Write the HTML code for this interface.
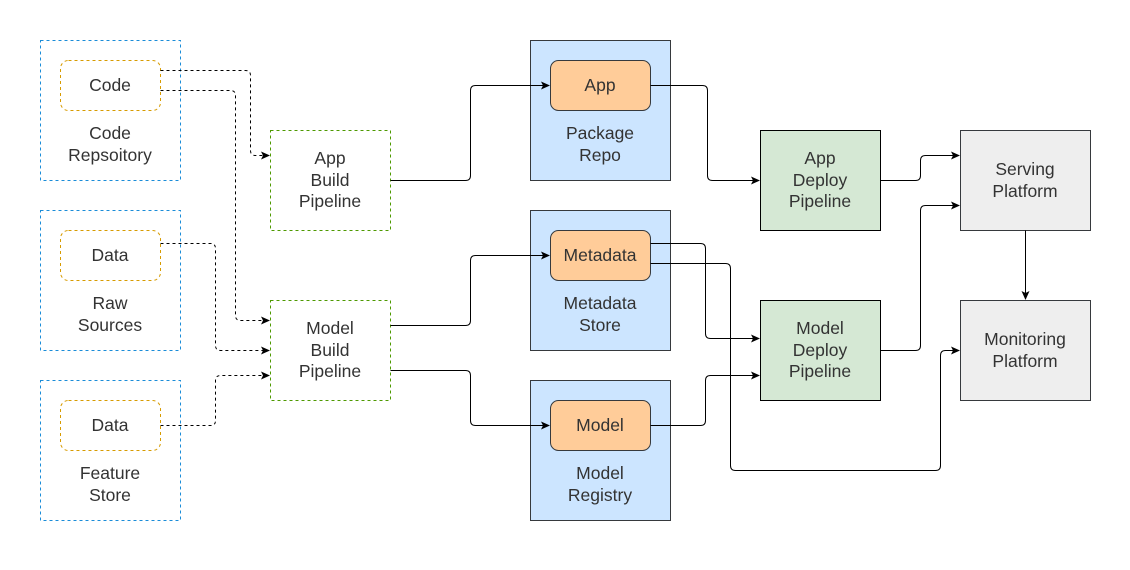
<!DOCTYPE html>
<html><head><style>body{margin:0;background:#fff}svg{display:block}text{font-family:"Liberation Sans",sans-serif;font-size:17.5px;fill:#333;text-anchor:middle}</style></head>
<body>
<svg width="1130" height="570" viewBox="0 0 1130 570">
<defs><marker id="a" markerWidth="10" markerHeight="10" refX="8" refY="5" orient="auto" markerUnits="userSpaceOnUse"><path d="M0,1 L9,5 L0,9 L2,5z" fill="#000"/></marker></defs>
<g fill="none" stroke="#1a8cd8" stroke-dasharray="3,3">
<rect x="40.5" y="40.5" width="140" height="140"/><rect x="40.5" y="210.5" width="140" height="140"/><rect x="40.5" y="380.5" width="140" height="140"/></g>
<g fill="none" stroke="#d79b00" stroke-dasharray="3,3">
<rect x="60.5" y="60.5" width="100" height="50" rx="8"/><rect x="60.5" y="230.5" width="100" height="50" rx="8"/><rect x="60.5" y="400.5" width="100" height="50" rx="8"/></g>
<g fill="none" stroke="#4d9900" stroke-dasharray="3,3">
<rect x="270.5" y="130.5" width="120" height="100"/><rect x="270.5" y="300.5" width="120" height="100"/></g>
<g fill="#cce5ff" stroke="#36393d"><rect x="530.5" y="40.5" width="140" height="140"/><rect x="530.5" y="210.5" width="140" height="140"/><rect x="530.5" y="380.5" width="140" height="140"/></g>
<g fill="#ffcc99" stroke="#36393d"><rect x="550.5" y="60.5" width="100" height="50" rx="8"/><rect x="550.5" y="230.5" width="100" height="50" rx="8"/><rect x="550.5" y="400.5" width="100" height="50" rx="8"/></g>
<g fill="#d5e8d4" stroke="#000"><rect x="760.5" y="130.5" width="120" height="100"/><rect x="760.5" y="300.5" width="120" height="100"/></g>
<g fill="#eeeeee" stroke="#36393d"><rect x="960.5" y="130.5" width="130" height="100"/><rect x="960.5" y="300.5" width="130" height="100"/></g>
<g fill="none" stroke="#000" stroke-width="1" marker-end="url(#a)">
<g stroke-dasharray="3,3">
<path d="M160.5,70.5H245.5Q250.5,70.5 250.5,75.5V150.5Q250.5,155.5 255.5,155.5H269"/>
<path d="M160.5,90.5H230.5Q235.5,90.5 235.5,95.5V315.5Q235.5,320.5 240.5,320.5H269"/>
<path d="M160.5,243.5H210.5Q215.5,243.5 215.5,248.5V345.5Q215.5,350.5 220.5,350.5H269"/>
<path d="M160.5,425.5H210.5Q215.5,425.5 215.5,420.5V380.5Q215.5,375.5 220.5,375.5H269"/>
</g>
<path d="M390.5,180.5H465.5Q470.5,180.5 470.5,175.5V90.5Q470.5,85.5 475.5,85.5H549"/>
<path d="M390.5,325.5H465.5Q470.5,325.5 470.5,320.5V260.5Q470.5,255.5 475.5,255.5H549"/>
<path d="M390.5,370.5H465.5Q470.5,370.5 470.5,375.5V420.5Q470.5,425.5 475.5,425.5H549"/>
<path d="M650.5,85.5H702.5Q707.5,85.5 707.5,90.5V175.5Q707.5,180.5 712.5,180.5H759"/>
<path d="M650.5,243.5H700.5Q705.5,243.5 705.5,248.5V333.5Q705.5,338.5 710.5,338.5H759"/>
<path d="M650.5,263.5H725.5Q730.5,263.5 730.5,268.5V465.5Q730.5,470.5 735.5,470.5H935.5Q940.5,470.5 940.5,465.5V355.5Q940.5,350.5 945.5,350.5H959"/>
<path d="M650.5,425.5H700.5Q705.5,425.5 705.5,420.5V380.5Q705.5,375.5 710.5,375.5H759"/>
<path d="M880.5,180.5H915.5Q920.5,180.5 920.5,175.5V160.5Q920.5,155.5 925.5,155.5H959"/>
<path d="M880.5,350.5H915.5Q920.5,350.5 920.5,345.5V210.5Q920.5,205.5 925.5,205.5H959"/>
<path d="M1025.5,230.5V299"/>
</g>
<text x="110" y="91">Code</text>
<text x="110" y="139">Code</text><text x="110" y="161">Repsoitory</text>
<text x="110" y="261">Data</text>
<text x="110" y="309">Raw</text><text x="110" y="331">Sources</text>
<text x="110" y="431">Data</text>
<text x="110" y="479">Feature</text><text x="110" y="501">Store</text>
<text x="330" y="164">App</text><text x="330" y="186">Build</text><text x="330" y="207">Pipeline</text>
<text x="330" y="334">Model</text><text x="330" y="356">Build</text><text x="330" y="377">Pipeline</text>
<text x="600" y="91">App</text>
<text x="600" y="139">Package</text><text x="600" y="161">Repo</text>
<text x="600" y="261">Metadata</text>
<text x="600" y="309">Metadata</text><text x="600" y="331">Store</text>
<text x="600" y="431">Model</text>
<text x="600" y="479">Model</text><text x="600" y="501">Registry</text>
<text x="820" y="164">App</text><text x="820" y="186">Deploy</text><text x="820" y="207">Pipeline</text>
<text x="820" y="334">Model</text><text x="820" y="356">Deploy</text><text x="820" y="377">Pipeline</text>
<text x="1025" y="175">Serving</text><text x="1025" y="197">Platform</text>
<text x="1025" y="345">Monitoring</text><text x="1025" y="367">Platform</text>
</svg>
</body></html>
